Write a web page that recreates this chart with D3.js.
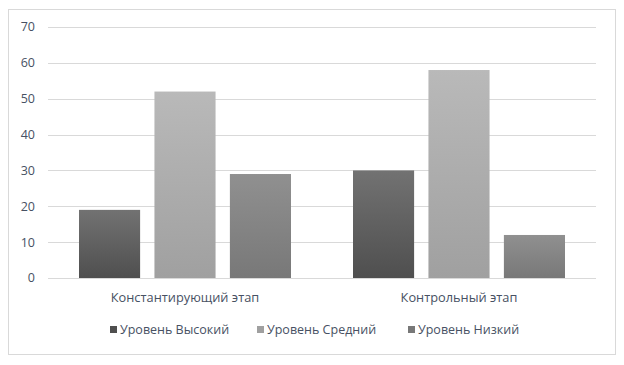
<!DOCTYPE html>
<html>
<head>
<meta charset="utf-8">
<script src="https://cdn.jsdelivr.net/npm/d3@7"></script>
<style>
  body { margin: 0; background: #fff; }
  text { font-family: "Open Sans", sans-serif; fill: #475163; }
</style>
</head>
<body>
<svg id="chart" width="624" height="365"></svg>
<script>
// data
var categories = ["Константирующий этап", "Контрольный этап"]
var seriesNames = ["Уровень Высокий", "Уровень Средний", "Уровень Низкий"]
var valuesHigh = [19, 30]
var valuesMid = [52, 58]
var valuesLow = [29, 12]
var yTicks = [0, 10, 20, 30, 40, 50, 60, 70]

var seriesValues = [valuesHigh, valuesMid, valuesLow]
// top / bottom gradient colours per series
var colors = [["#727272", "#4f4f4f"], ["#b9b9b9", "#a0a0a0"], ["#909090", "#787878"]]

var svg = d3.select("#chart")

// outer frame
svg.append("rect")
    .attr("x", 8.5).attr("y", 9.5)
    .attr("width", 607).attr("height", 345)
    .attr("fill", "#fff").attr("stroke", "#d9d9d9")

var defs = svg.append("defs")
colors.forEach(function (c, i) {
    var g = defs.append("linearGradient")
        .attr("id", "grad" + i)
        .attr("x1", 0).attr("y1", 0).attr("x2", 0).attr("y2", 1)
    g.append("stop").attr("offset", "0%").attr("stop-color", c[0])
    g.append("stop").attr("offset", "100%").attr("stop-color", c[1])
})

var plotLeft = 48, plotRight = 596, plotTop = 27, plotBottom = 278

var y = d3.scaleLinear().domain([0, 70]).range([plotBottom, plotTop])
var x0 = d3.scaleBand().domain(categories).range([plotLeft, plotRight])
var x1 = d3.scaleBand().domain(d3.range(3))
    .range([31, x0.bandwidth() - 31])
    .paddingInner(0.19)

// gridlines
svg.append("g").selectAll("line")
    .data(yTicks)
    .join("line")
    .attr("x1", plotLeft).attr("x2", plotRight)
    .attr("y1", d => Math.round(y(d)) + 0.5)
    .attr("y2", d => Math.round(y(d)) + 0.5)
    .attr("stroke", "#d9d9d9")

// y labels
svg.append("g").selectAll("text")
    .data(yTicks)
    .join("text")
    .attr("x", 35)
    .attr("y", d => y(d))
    .attr("dy", "0.35em")
    .attr("text-anchor", "end")
    .style("font-size", "12.5px")
    .text(d => d)

// bars
var groups = svg.append("g").selectAll("g")
    .data(categories)
    .join("g")
    .attr("transform", d => `translate(${x0(d)},0)`)

groups.selectAll("rect")
    .data((d, ci) => seriesValues.map((s, si) => ({ si: si, v: s[ci] })))
    .join("rect")
    .attr("x", d => x1(d.si))
    .attr("width", x1.bandwidth())
    .attr("y", d => y(d.v))
    .attr("height", d => y(0) - y(d.v))
    .attr("fill", d => `url(#grad${d.si})`)

// category labels
svg.append("g").selectAll("text")
    .data(categories)
    .join("text")
    .attr("x", d => x0(d) + x0.bandwidth() / 2)
    .attr("y", 302)
    .attr("text-anchor", "middle")
    .style("font-size", "12.8px")
    .text(d => d)

// legend
var legendX = [110, 257, 408]
var legend = svg.append("g").selectAll("g")
    .data(seriesNames)
    .join("g")
    .attr("transform", (d, i) => `translate(${legendX[i]},326)`)
legend.append("rect")
    .attr("width", 7).attr("height", 7)
    .attr("fill", (d, i) => colors[i][1])
legend.append("text")
    .attr("x", 10).attr("y", 3.5).attr("dy", "0.35em")
    .style("font-size", "12.5px")
    .text(d => d)
</script>
</body>
</html>
